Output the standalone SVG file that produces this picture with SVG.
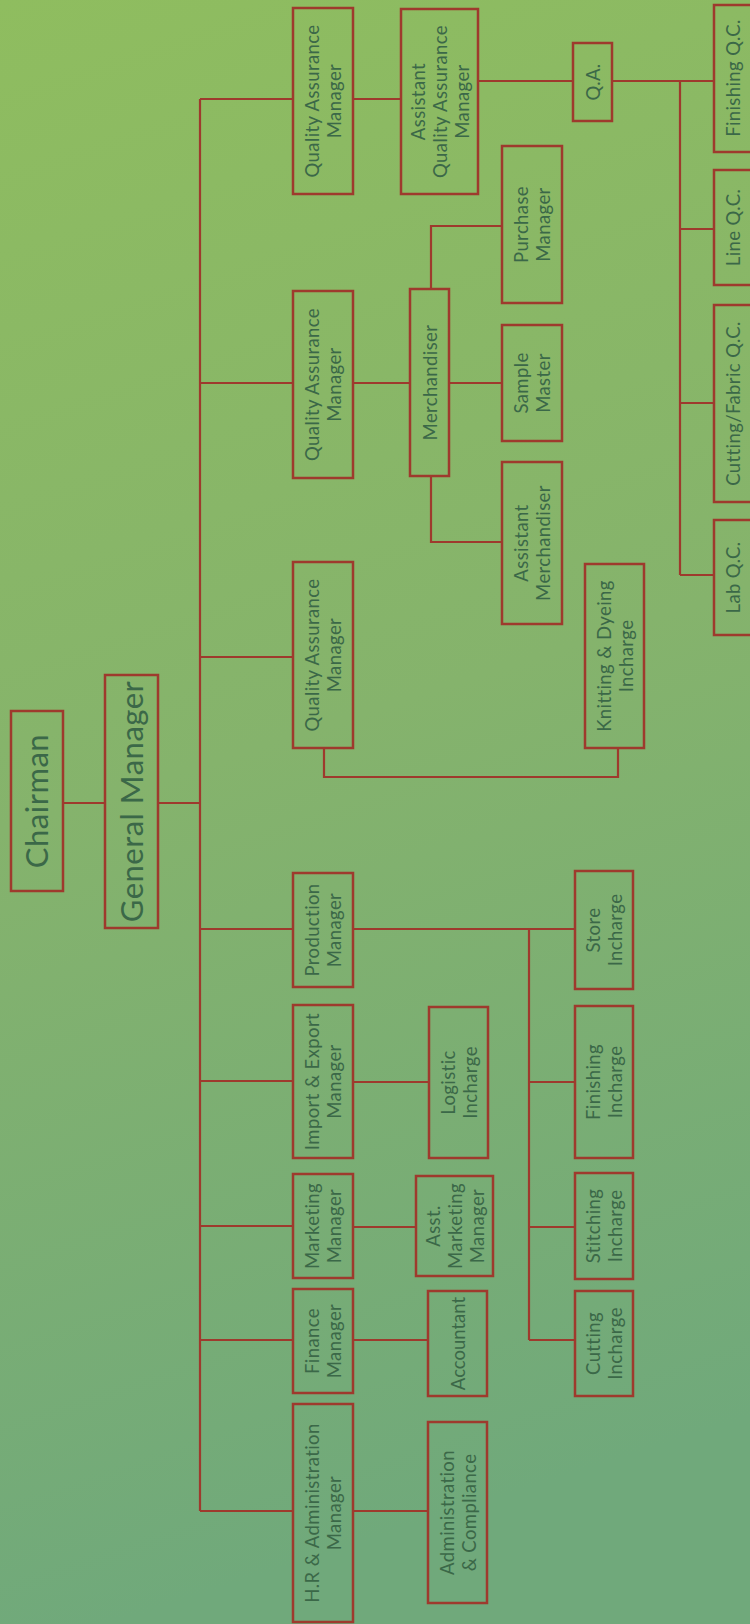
<svg xmlns="http://www.w3.org/2000/svg" width="750" height="1624" viewBox="0 0 750 1624">
<defs>
<linearGradient id="bg" x1="0" y1="0" x2="0.15" y2="1">
<stop offset="0" stop-color="#8fbd5f"/>
<stop offset="0.5" stop-color="#85b36c"/>
<stop offset="1" stop-color="#70a97b"/>
</linearGradient>
<style>
.box{fill:none;stroke:#9e3a2d;stroke-width:2.5}
.ln{fill:none;stroke:#9e3a2d;stroke-width:2.2}
text{font-family:"Lato","Liberation Sans",sans-serif;fill:#3b6848;text-anchor:middle;font-size:18.5px;letter-spacing:0.4px}
.big{font-size:31px;letter-spacing:0.5px}
</style>
</defs>
<rect x="0" y="0" width="750" height="1624" fill="url(#bg)"/>

<g id="connectors">
<path class="ln" d="M63,803 H105"/>
<path class="ln" d="M158,803 H200"/>
<path class="ln" d="M200,99 V1511"/>
<path class="ln" d="M200,99 H293 M200,383 H293 M200,657 H293 M200,929 H293 M200,1081 H293 M200,1226 H293 M200,1340 H293 M200,1511 H293"/>
<path class="ln" d="M353,99 H401"/>
<path class="ln" d="M478,81 H573"/>
<path class="ln" d="M612,81 H714 M680,81 V575 M680,229 H714 M680,403 H714 M680,575 H714"/>
<path class="ln" d="M353,383 H410 M449,383 H502"/>
<path class="ln" d="M431,289 V226 H502"/>
<path class="ln" d="M431,476 V542 H502"/>
<path class="ln" d="M324,748 V777 H618 V748"/>
<path class="ln" d="M353,929 H575 M529,929 V1340 M529,1082 H575 M529,1227 H575 M529,1340 H575"/>
<path class="ln" d="M353,1082 H429"/>
<path class="ln" d="M353,1227 H416"/>
<path class="ln" d="M353,1340 H428"/>
<path class="ln" d="M353,1511 H428"/>
</g>

<g id="chairman"><rect class="box" x="11" y="711" width="52" height="180"/>
<text class="big" transform="translate(37,801) rotate(-90)" y="11">Chairman</text></g>

<g id="general-manager"><rect class="box" x="105" y="675" width="53" height="253"/>
<text class="big" transform="translate(131.5,801.5) rotate(-90)" y="11">General Manager</text></g>

<g id="qam3"><rect class="box" x="293" y="8" width="60" height="186"/>
<text transform="translate(323,101) rotate(-90)"><tspan x="0" y="-4">Quality Assurance</tspan><tspan x="0" y="18">Manager</tspan></text></g>

<g id="qam2"><rect class="box" x="293" y="291" width="60" height="187"/>
<text transform="translate(323,384.5) rotate(-90)"><tspan x="0" y="-4">Quality Assurance</tspan><tspan x="0" y="18">Manager</tspan></text></g>

<g id="qam1"><rect class="box" x="293" y="562" width="60" height="186"/>
<text transform="translate(323,655) rotate(-90)"><tspan x="0" y="-4">Quality Assurance</tspan><tspan x="0" y="18">Manager</tspan></text></g>

<g id="production-manager"><rect class="box" x="293" y="873" width="60" height="114"/>
<text transform="translate(323,930) rotate(-90)"><tspan x="0" y="-4">Production</tspan><tspan x="0" y="18">Manager</tspan></text></g>

<g id="import-export-manager"><rect class="box" x="293" y="1005" width="60" height="153"/>
<text transform="translate(323,1081.5) rotate(-90)"><tspan x="0" y="-4">Import &amp; Export</tspan><tspan x="0" y="18">Manager</tspan></text></g>

<g id="marketing-manager"><rect class="box" x="293" y="1174" width="60" height="104"/>
<text transform="translate(323,1226) rotate(-90)"><tspan x="0" y="-4">Marketing</tspan><tspan x="0" y="18">Manager</tspan></text></g>

<g id="finance-manager"><rect class="box" x="293" y="1289" width="60" height="104"/>
<text transform="translate(323,1341) rotate(-90)"><tspan x="0" y="-4">Finance</tspan><tspan x="0" y="18">Manager</tspan></text></g>

<g id="hr-admin-manager"><rect class="box" x="293" y="1404" width="60" height="218"/>
<text transform="translate(323,1513) rotate(-90)"><tspan x="0" y="-4">H.R &amp; Administration</tspan><tspan x="0" y="18">Manager</tspan></text></g>

<g id="asst-qam"><rect class="box" x="401" y="9" width="77" height="185"/>
<text transform="translate(439.5,101.5) rotate(-90)"><tspan x="0" y="-15">Assistant</tspan><tspan x="0" y="7">Quality Assurance</tspan><tspan x="0" y="29">Manager</tspan></text></g>

<g id="qa"><rect class="box" x="573" y="43" width="39" height="78"/>
<text transform="translate(592.5,82) rotate(-90)" y="7">Q.A.</text></g>

<g id="finishing-qc"><rect class="box" x="714" y="5" width="40" height="147"/>
<text transform="translate(733,78) rotate(-90)" y="7">Finishing Q.C.</text></g>

<g id="line-qc"><rect class="box" x="714" y="170" width="40" height="115"/>
<text transform="translate(733,227.5) rotate(-90)" y="7">Line Q.C.</text></g>

<g id="cutting-fabric-qc"><rect class="box" x="714" y="305" width="40" height="197"/>
<text transform="translate(733,403.5) rotate(-90)" y="7">Cutting/Fabric Q.C.</text></g>

<g id="lab-qc"><rect class="box" x="714" y="520" width="40" height="115"/>
<text transform="translate(733,577.5) rotate(-90)" y="7">Lab Q.C.</text></g>

<g id="merchandiser"><rect class="box" x="410" y="289" width="39" height="187"/>
<text transform="translate(429.5,382.5) rotate(-90)" y="7">Merchandiser</text></g>

<g id="purchase-manager"><rect class="box" x="502" y="146" width="60" height="157"/>
<text transform="translate(532,224.5) rotate(-90)"><tspan x="0" y="-4">Purchase</tspan><tspan x="0" y="18">Manager</tspan></text></g>

<g id="sample-master"><rect class="box" x="502" y="325" width="60" height="116"/>
<text transform="translate(532,383) rotate(-90)"><tspan x="0" y="-4">Sample</tspan><tspan x="0" y="18">Master</tspan></text></g>

<g id="asst-merchandiser"><rect class="box" x="502" y="462" width="60" height="162"/>
<text transform="translate(532,543) rotate(-90)"><tspan x="0" y="-4">Assistant</tspan><tspan x="0" y="18">Merchandiser</tspan></text></g>

<g id="knitting-dyeing"><rect class="box" x="585" y="564" width="59" height="184"/>
<text transform="translate(614.5,656) rotate(-90)"><tspan x="0" y="-4">Knitting &amp; Dyeing</tspan><tspan x="0" y="18">Incharge</tspan></text></g>

<g id="logistic-incharge"><rect class="box" x="429" y="1007" width="59" height="151"/>
<text transform="translate(458.5,1082.5) rotate(-90)"><tspan x="0" y="-4">Logistic</tspan><tspan x="0" y="18">Incharge</tspan></text></g>

<g id="asst-marketing-manager"><rect class="box" x="416" y="1176" width="77" height="100"/>
<text transform="translate(454.5,1226) rotate(-90)"><tspan x="0" y="-15">Asst.</tspan><tspan x="0" y="7">Marketing</tspan><tspan x="0" y="29">Manager</tspan></text></g>

<g id="accountant"><rect class="box" x="428" y="1291" width="59" height="105"/>
<text transform="translate(457.5,1343.5) rotate(-90)" y="7" style="letter-spacing:0">Accountant</text></g>

<g id="admin-compliance"><rect class="box" x="428" y="1422" width="59" height="181"/>
<text transform="translate(457.5,1512.5) rotate(-90)"><tspan x="0" y="-4">Administration</tspan><tspan x="0" y="18">&amp; Compliance</tspan></text></g>

<g id="store-incharge"><rect class="box" x="575" y="871" width="58" height="118"/>
<text transform="translate(604,930) rotate(-90)"><tspan x="0" y="-4">Store</tspan><tspan x="0" y="18">Incharge</tspan></text></g>

<g id="finishing-incharge"><rect class="box" x="575" y="1006" width="58" height="152"/>
<text transform="translate(604,1082) rotate(-90)"><tspan x="0" y="-4">Finishing</tspan><tspan x="0" y="18">Incharge</tspan></text></g>

<g id="stitching-incharge"><rect class="box" x="575" y="1173" width="58" height="106"/>
<text transform="translate(604,1226) rotate(-90)"><tspan x="0" y="-4">Stitching</tspan><tspan x="0" y="18">Incharge</tspan></text></g>

<g id="cutting-incharge"><rect class="box" x="575" y="1291" width="58" height="105"/>
<text transform="translate(604,1343.5) rotate(-90)"><tspan x="0" y="-4">Cutting</tspan><tspan x="0" y="18">Incharge</tspan></text></g>
</svg>
